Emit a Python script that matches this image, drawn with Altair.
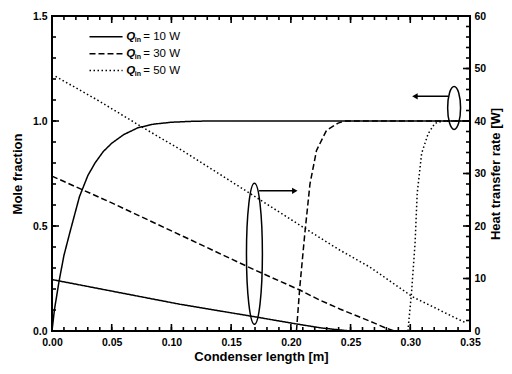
import altair as alt
import pandas as pd

series = ["Q_in = 10 W", "Q_in = 30 W", "Q_in = 50 W"]
legend_rest = ["= 10 W", "= 30 W", "= 50 W"]

# Mole fraction (left axis)
m10_x = [0, 0.002, 0.006, 0.010, 0.015, 0.023, 0.030, 0.036, 0.043, 0.050, 0.060, 0.072, 0.085, 0.100, 0.115, 0.130, 0.350]
m10_y = [0, 0.10, 0.24, 0.36, 0.47, 0.64, 0.74, 0.80, 0.855, 0.894, 0.935, 0.968, 0.985, 0.994, 0.998, 1.0, 1.0]
m30_x = [0.2047, 0.2075, 0.2117, 0.216, 0.2215, 0.2298, 0.2396, 0.245, 0.35]
m30_y = [0, 0.21, 0.465, 0.70, 0.86, 0.955, 0.99, 1.0, 1.0]
m50_x = [0.298, 0.301, 0.304, 0.3058, 0.3095, 0.315, 0.3206, 0.327, 0.35]
m50_y = [0, 0.18, 0.418, 0.656, 0.846, 0.94, 0.989, 1.0, 1.0]

# Heat transfer rate in W (right axis)
h10_x = [0, 0.05, 0.107, 0.17, 0.205, 0.225, 0.241, 0.25]
h10_y = [9.8, 7.6, 5.1, 2.7, 1.33, 0.6, 0.2, 0]
h30_x = [0, 0.05, 0.111, 0.17, 0.2075, 0.224, 0.241, 0.255, 0.27, 0.28, 0.287]
h30_y = [29.5, 24.4, 17.9, 11.6, 7.8, 5.9, 4.2, 2.9, 1.5, 0.5, 0]
h50_x = [0.003, 0.038, 0.075, 0.111, 0.17, 0.21, 0.241, 0.266, 0.302, 0.336, 0.347]
h50_y = [48.5, 44, 38.9, 34.1, 25.6, 19.8, 15.4, 12.2, 6.5, 2.7, 1.5]

# annotations (data units, right axis in W)
ell_x = [0.1695, 0.3367]
ell_y = [14.7, 42.5]
arr_x1 = [0.1734, 0.3318]
arr_x2 = [0.2033, 0.3039]
arr_y = [26.7, 44.7]
arr_head = ["triangle-right", "triangle-left"]

# tick values
x_major = [0, 0.05, 0.10, 0.15, 0.20, 0.25, 0.30, 0.35]
x_minor = [round(i * 0.01, 2) for i in range(36)]
l_major = [0, 0.5, 1.0, 1.5]
l_minor = [round(i * 0.1, 1) for i in range(16)]
r_major = [0, 10, 20, 30, 40, 50, 60]
r_minor = list(range(0, 61, 2))

W, H = 418, 315
FONT = "Liberation Sans"
W_PER_UNIT = 40  # right axis: 60 W spans the same height as 1.5 mole fraction
TO_LEFT = "datum.y / 40"

def frame(xs, ys, s):
    return pd.DataFrame({"x": xs, "y": ys, "series": s})

mole = pd.concat([frame(m10_x, m10_y, series[0]), frame(m30_x, m30_y, series[1]), frame(m50_x, m50_y, series[2])])
heat = pd.concat([frame(h10_x, h10_y, series[0]), frame(h30_x, h30_y, series[1]), frame(h50_x, h50_y, series[2])])

XS = alt.Scale(domain=[0, 0.35], nice=False, zero=False)
YS = alt.Scale(domain=[0, 1.5], nice=False)

XAX = alt.Axis(orient="bottom", values=x_major, format=".2f", title="Condenser length [m]",
               ticks=False, tickSize=0, domain=False, grid=False, labelFlush=False,
               labelPadding=6, titlePadding=3)
X = alt.X("x:Q", scale=XS, axis=XAX)
YL = alt.Y("y:Q", scale=YS,
           axis=alt.Axis(orient="left", values=l_major, format=".1f", title="Mole fraction",
                         ticks=False, tickSize=0, domain=False, grid=False, labelFlush=False,
                         labelPadding=5, titlePadding=8))
Y0 = alt.Y("y:Q", scale=YS, axis=None)
YR = alt.Y("ym:Q", scale=YS,
           axis=alt.Axis(orient="right", values=[v / W_PER_UNIT for v in r_major],
                         labelExpr="format(datum.value * 40, 'd')", title="Heat transfer rate [W]",
                         ticks=False, tickSize=0, domain=False, grid=False, titleAngle=270,
                         titleBaseline="top", labelFlush=False, labelPadding=4, titlePadding=4))
Ym0 = alt.Y("ym:Q", scale=YS, axis=None)

dash = alt.StrokeDash("series:N", scale=alt.Scale(domain=series, range=[[1, 0], [6, 3], [1.5, 2.5]]),
                      legend=None)

mole_lines = alt.Chart(mole).mark_line(color="black", strokeWidth=1.5).encode(x=X, y=YL, strokeDash=dash)
heat_lines = alt.Chart(heat).transform_calculate(ym=TO_LEFT).mark_line(
    color="black", strokeWidth=1.5).encode(x=X, y=YR, strokeDash=dash)

# inward tick marks
tick_layers = []
for vals, ln in [(x_major, 7), (x_minor, 4)]:
    d = pd.DataFrame({"x": vals})
    tick_layers.append(alt.Chart(d).mark_rule(color="black", strokeWidth=1.6).encode(
        x=X, y=alt.value(H), y2=alt.value(H - ln)))
    tick_layers.append(alt.Chart(d).mark_rule(color="black", strokeWidth=1.6).encode(
        x=X, y=alt.value(0), y2=alt.value(ln)))
for vals, ln in [(l_major, 7), (l_minor, 4)]:
    d = pd.DataFrame({"y": vals})
    tick_layers.append(alt.Chart(d).mark_rule(color="black", strokeWidth=1.6).encode(
        y=Y0, x=alt.value(0), x2=alt.value(ln)))
for vals, ln in [(r_major, 7), (r_minor, 4)]:
    d = pd.DataFrame({"y": vals})
    tick_layers.append(alt.Chart(d).transform_calculate(ym=TO_LEFT).mark_rule(
        color="black", strokeWidth=1.6).encode(y=Ym0, x=alt.value(W), x2=alt.value(W - ln)))

ell = pd.DataFrame({"x": ell_x, "y": ell_y,
                    "shape": ["M0,-1C0.0624,-1 0.113,-0.5523 0.113,0C0.113,0.5523 0.0624,1 0,1C-0.0624,1 -0.113,0.5523 -0.113,0C-0.113,-0.5523 -0.0624,-1 0,-1Z",
                              "M0,-1C0.1657,-1 0.3,-0.5523 0.3,0C0.3,0.5523 0.1657,1 0,1C-0.1657,1 -0.3,0.5523 -0.3,0C-0.3,-0.5523 -0.1657,-1 0,-1Z"],
                    "size": [19881, 1849]})
ellipses = alt.Chart(ell).transform_calculate(ym=TO_LEFT).mark_point(
    color="black", filled=False, strokeWidth=1.5, opacity=1).encode(
    x=X, y=Ym0, shape=alt.Shape("shape:N", scale=None), size=alt.Size("size:Q", scale=None))

arr = pd.DataFrame({"x": arr_x1, "x2": arr_x2, "y": arr_y, "head": arr_head})
shafts = alt.Chart(arr).transform_calculate(ym=TO_LEFT).mark_rule(
    color="black", strokeWidth=1.5).encode(x=X, x2="x2:Q", y=Ym0)
heads = alt.Chart(arr).transform_calculate(ym=TO_LEFT).mark_point(
    color="black", filled=True, size=40, opacity=1).encode(
    x=alt.X("x2:Q", scale=XS, axis=XAX), y=Ym0, shape=alt.Shape("head:N", scale=None))

# legend (placed in data units inside the plot, top-left)
leg = pd.DataFrame({"series": series, "rest": legend_rest, "i": [0, 1, 2]})
leg_base = alt.Chart(leg).transform_calculate(
    x="0.0314", x2="0.0591", xt="0.0622", y="1.401 - 0.0805 * datum.i")
leg_lines = leg_base.mark_rule(color="black", strokeWidth=1.5).encode(
    x=X, x2="x2:Q", y=Y0, strokeDash=dash)
leg_q = leg_base.mark_text(align="left", baseline="middle", font=FONT, fontSize=11.5,
                           fontStyle="italic", fontWeight="bold", color="black").encode(
    x=alt.X("xt:Q", scale=XS, axis=XAX), y=Y0, text=alt.value("Q"))
leg_in = leg_base.mark_text(align="left", baseline="middle", font=FONT, fontSize=7,
                            fontWeight="bold", color="black", dx=8.5, dy=3).encode(
    x=alt.X("xt:Q", scale=XS, axis=XAX), y=Y0, text=alt.value("in"))
leg_rest = leg_base.mark_text(align="left", baseline="middle", font=FONT, fontSize=11.5,
                              color="black", dx=17).encode(
    x=alt.X("xt:Q", scale=XS, axis=XAX), y=Y0, text="rest:N")

chart = alt.layer(
    mole_lines, heat_lines, ellipses, shafts, heads, *tick_layers, leg_lines, leg_q, leg_in, leg_rest
).resolve_axis(y="independent").properties(
    width=W, height=H,
    autosize=alt.AutoSizeParams(type="none"),
    padding={"left": 44, "top": 8, "right": 34, "bottom": 35},
).configure_view(stroke="black", strokeWidth=2).configure_axis(
    labelFont=FONT, titleFont=FONT, labelFontSize=10.5, titleFontSize=13,
    labelColor="black", titleColor="black", labelFontWeight="bold", titleFontWeight="bold"
)

chart.save("out.html", embed_options={"renderer": "svg", "actions": False})
